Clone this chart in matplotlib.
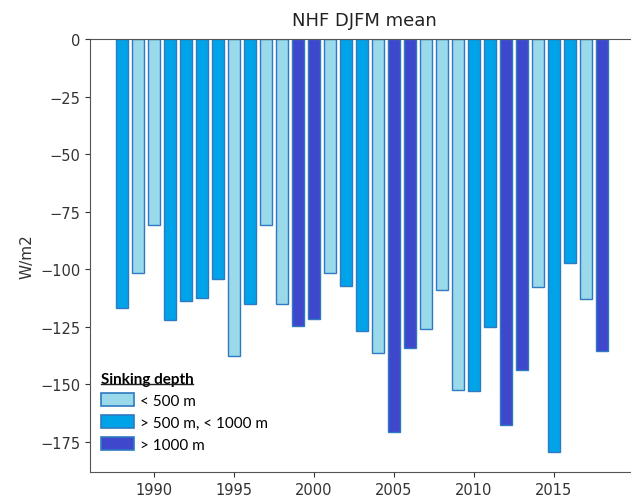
import matplotlib
matplotlib.use("Agg")
import matplotlib.pyplot as plt
from matplotlib.patches import Patch
from matplotlib.lines import Line2D

years = list(range(1988, 2019))
values = [-116.7, -101.5, -80.8, -122.0, -113.8, -112.6, -104.4, -137.5, -115.0, -80.8,
          -115.0, -124.8, -121.6, -101.5, -107.4, -126.8, -136.3, -170.6, -134.2, -126.0,
          -108.8, -152.3, -152.8, -125.2, -167.6, -143.6, -107.8, -179.2, -97.4, -112.9,
          -135.5]
depth_class = ["mid", "light", "light", "mid", "mid", "mid", "mid", "light", "mid", "light",
               "light", "dark", "dark", "light", "mid", "mid", "light", "dark", "dark", "light",
               "light", "light", "mid", "mid", "dark", "dark", "light", "mid", "mid", "light",
               "dark"]
class_labels = {"light": "< 500 m", "mid": "> 500 m, < 1000 m", "dark": "> 1000 m"}
class_colors = {"light": "#99D9EA", "mid": "#00A2E8", "dark": "#3F48CC"}
edge = "#2F7AC0"

fig = plt.figure(figsize=(6.31, 5.02), dpi=100)
ax = fig.add_axes([90 / 631, 29 / 502, 548 / 631, 433 / 502])

ax.bar(years, values, width=0.8, color=[class_colors[c] for c in depth_class],
       edgecolor=edge, linewidth=1.0)

ax.set_xlim(1986, 2020.25)
ax.set_ylim(-188, 0)
ax.set_yticks([0, -25, -50, -75, -100, -125, -150, -175])
ax.set_xticks([1990, 1995, 2000, 2005, 2010, 2015])
ax.tick_params(labelsize=10.5, colors="#333333")
for s in ax.spines.values():
    s.set_color("#555555")
ax.set_ylabel("W/m2", fontsize=11, color="#333333")
ax.set_title("NHF DJFM mean", fontsize=13, color="#222222", pad=10)

handles = [Patch(facecolor=class_colors[k], edgecolor=edge, linewidth=1.2, label=class_labels[k])
           for k in ["light", "mid", "dark"]]
leg = ax.legend(handles=handles, title="Sinking depth",
                loc="lower left", bbox_to_anchor=(0.0, 0.022), frameon=False,
                prop={"family": "Lato", "size": 11},
                title_fontproperties={"family": "Lato", "size": 11, "weight": "bold"},
                handlelength=2.2, handleheight=1.0, handletextpad=0.4,
                labelspacing=0.45, borderaxespad=0.3)
leg._legend_box.align = "left"

# underline the legend title
fig.canvas.draw()
bb = leg.get_title().get_window_extent()
inv = fig.transFigure.inverted()
(x0, y0), (x1, y1) = inv.transform([(bb.x0, bb.y0), (bb.x1, bb.y0)])
fig.add_artist(Line2D([x0, x1], [y0 + 1.5 / 502, y1 + 1.5 / 502], color="#222222",
                      linewidth=1.0, transform=fig.transFigure))

fig.savefig("out.png", dpi=100)
